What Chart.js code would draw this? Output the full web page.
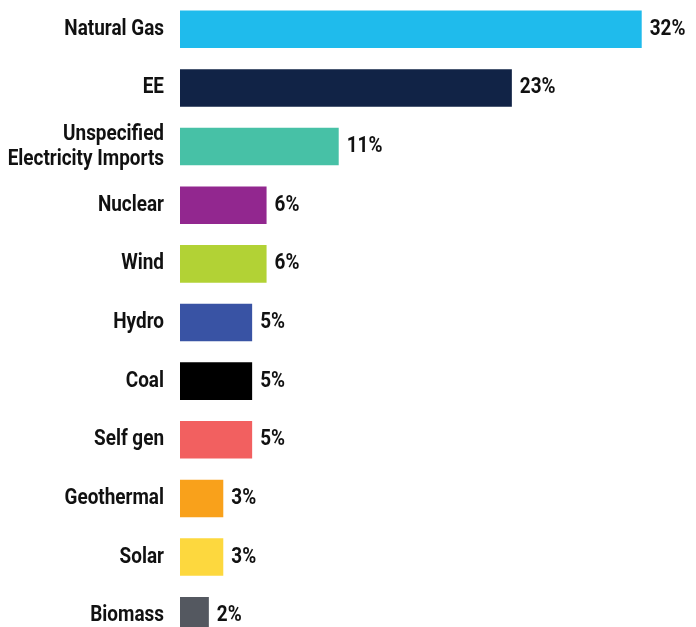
<!DOCTYPE html>
<html>
<head>
<meta charset="utf-8">
<script src="https://cdn.jsdelivr.net/npm/chart.js@4.4.1/dist/chart.umd.min.js"></script>
<style>
  html, body { margin: 0; padding: 0; background: #fff; overflow: hidden; }
</style>
</head>
<body>
<canvas id="chartMix" width="696" height="645"></canvas>
<script>
// categories and shares (%)
const sources = [
  "Natural Gas", "EE", ["Unspecified", "Electricity Imports"], "Nuclear", "Wind",
  "Hydro", "Coal", "Self gen", "Geothermal", "Solar", "Biomass"
];
const shares = [32, 23, 11, 6, 6, 5, 5, 5, 3, 3, 2];
const barColors = [
  "#1fbbec", "#112346", "#47c1a6", "#92278f", "#b2d235", "#3953a4",
  "#000000", "#f26060", "#f9a11b", "#fdd83e", "#545860"
];

const FONT = "bold 22px Roboto, sans-serif";
const SQUEEZE = 0.86;   // narrow the glyphs to a condensed look
const LINE_H = 25;

function condensedText(ctx, text, x, y, align) {
  ctx.save();
  ctx.translate(x, y);
  ctx.scale(SQUEEZE, 1);
  ctx.textAlign = align;
  ctx.fillText(text, 0, 0);
  ctx.restore();
}

// category names on the left and the value at the end of each bar
const barText = {
  id: "barText",
  afterDatasetsDraw(chart) {
    const ctx = chart.ctx;
    const meta = chart.getDatasetMeta(0);
    const yScale = chart.scales.y;
    ctx.save();
    ctx.fillStyle = "#111";
    ctx.font = FONT;
    ctx.textBaseline = "middle";
    meta.data.forEach((bar, i) => {
      condensedText(ctx, shares[i] + "%", bar.x + 8, bar.y, "left");
      const lines = [].concat(sources[i]);
      const yc = yScale.getPixelForValue(i);
      lines.forEach((line, j) => {
        const y = yc + (j - (lines.length - 1) / 2) * LINE_H;
        condensedText(ctx, line, yScale.right - 16, y, "right");
      });
    });
    ctx.restore();
  }
};

new Chart(document.getElementById("chartMix"), {
  type: "bar",
  data: {
    labels: sources,
    datasets: [{
      data: shares,
      backgroundColor: barColors,
      barPercentage: 0.8,
      categoryPercentage: 0.8
    }]
  },
  options: {
    indexAxis: "y",
    responsive: false,
    animation: false,
    layout: { padding: { right: 11, top: 0, bottom: 0, left: 0 } },
    plugins: {
      legend: { display: false },
      tooltip: { enabled: false }
    },
    scales: {
      x: { min: 0, max: 35, display: false },
      y: {
        grid: { display: false, drawTicks: false },
        border: { display: false },
        ticks: { display: false },
        afterFit: (scale) => {
          scale.width = 180;
          scale.paddingTop = 0;
          scale.paddingBottom = 0;
        }
      }
    }
  },
  plugins: [barText]
});
</script>
</body>
</html>
